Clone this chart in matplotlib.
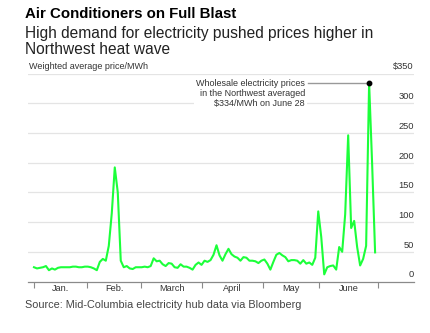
import numpy as np
import matplotlib
matplotlib.use("Agg")
import matplotlib.pyplot as plt

plt.rcParams['font.family'] = ['Liberation Sans', 'DejaVu Sans']

# Mid-C weighted average price, $/MWh, one value per trading day (Jan - June 28)
prices = [
    24, 22, 23, 24, 26, 19, 22, 20, 23, 24,
    24, 24, 24, 25, 25, 24, 24, 25, 25, 24,
    22, 19, 33, 38, 35, 60, 115, 192, 150, 35,
    24, 26, 22, 21, 24, 24, 24, 25, 24, 26,
    39, 34, 35, 29, 26, 31, 30, 24, 23, 29,
    25, 25, 23, 20, 28, 32, 28, 35, 33, 36,
    45, 61, 44, 35, 46, 55, 46, 42, 40, 35,
    41, 40, 35, 35, 34, 31, 35, 37, 30, 20,
    33, 45, 48, 44, 41, 34, 36, 36, 35, 30,
    36, 30, 32, 28, 40, 118, 75, 12, 24, 26,
    27, 20, 58, 50, 113, 246, 90, 102, 58, 27,
    38, 60, 334, 199, 49,
]
months = ['Jan.', 'Feb.', 'March', 'April', 'May', 'June']
month_starts = [0, 17.7, 35.8, 56.2, 76.6, 95.3, 115.0]
y_ticks = [0, 50, 100, 150, 200, 250, 300, 350]
peak_idx = int(np.argmax(prices))
peak_val = prices[peak_idx]

fig = plt.figure(figsize=(4.3, 3.33), dpi=100)
ax = fig.add_axes([28/430, 51.5/333, 386/430, 208/333])

x = np.arange(len(prices))
ax.plot(x, prices, color='#1cff3a', lw=1.5, solid_joinstyle='round', zorder=3, clip_on=False)

ax.set_xlim(-2.0, 127.0)
ax.set_ylim(0, 350)

# horizontal gridlines
for v in y_ticks[1:]:
    ax.axhline(v, color='#e4e4e4', lw=0.9, zorder=1)

for s in ['top', 'left', 'right']:
    ax.spines[s].set_visible(False)
ax.spines['bottom'].set_color('#8a8a8a')
ax.spines['bottom'].set_linewidth(0.9)
ax.set_yticks([])
ax.set_xticks(month_starts)
ax.set_xticklabels([])
ax.tick_params(axis='x', length=4, width=0.8, color='#8a8a8a', direction='out')

# month labels centred between the ticks
for i, m in enumerate(months):
    mid = (month_starts[i] + month_starts[i + 1]) / 2
    ax.text(mid, -5, m, ha='center', va='top', fontsize=6.6, color='#333333')

# value labels sit just above their gridlines on the right
ytr = ax.get_yaxis_transform()
for v in y_ticks:
    lab = '$%d' % v if v == 350 else str(v)
    ax.text(1.0, v + 3.5, lab, transform=ytr, ha='right', va='bottom',
            fontsize=6.7, color='#333333')
ax.text(0.003, 353.5, 'Weighted average price/MWh', transform=ytr, ha='left',
        va='bottom', fontsize=6.5, color='#333333')

# annotation for the June 28 peak
ax.plot([91.6, peak_idx], [peak_val, peak_val], color='#999999', lw=1.0, zorder=2)
ax.plot(peak_idx, peak_val, 'o', color='black', ms=3.2, zorder=4)
ax.text(90.6, 341, 'Wholesale electricity prices\nin the Northwest averaged\n$%d/MWh on June 28' % peak_val,
        ha='right', va='top', fontsize=6.5, color='#333333', linespacing=1.15,
        bbox=dict(facecolor='white', edgecolor='none', pad=1.5), zorder=2)

fig.text(25/430, 1 - 18/333, 'Air Conditioners on Full Blast', fontsize=10.8,
         fontweight='bold', color='black', va='baseline', ha='left')
fig.text(25/430, 1 - 38/333, 'High demand for electricity pushed prices higher in',
         fontsize=11.2, color='#222222', va='baseline', ha='left')
fig.text(25/430, 1 - 54/333, 'Northwest heat wave',
         fontsize=11.2, color='#222222', va='baseline', ha='left')
fig.text(25/430, 1 - 308/333, 'Source: Mid-Columbia electricity hub data via Bloomberg',
         fontsize=7.8, color='#444444', va='baseline', ha='left')

fig.savefig('out.png', dpi=100)
